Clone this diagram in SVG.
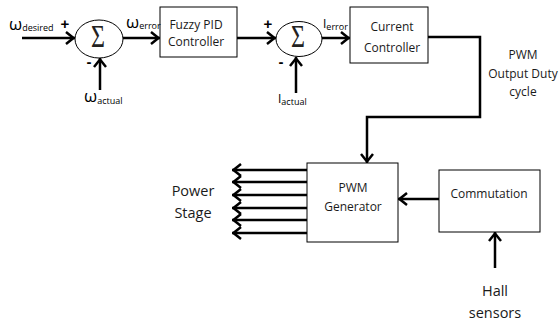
<svg xmlns="http://www.w3.org/2000/svg" width="560" height="324" viewBox="0 0 560 324">
<defs>
<style>
.box{fill:#fff;stroke:#000;stroke-width:1}
.sum{fill:#fff;stroke:#000;stroke-width:1}
.t{font-family:"Open Sans","Liberation Sans",sans-serif;font-size:12px;fill:#1a1a1a;text-anchor:middle}
.big{font-size:14.5px}
.lab{font-family:"Open Sans","Liberation Sans",sans-serif;fill:#000}
.sig{font-family:"Liberation Sans",sans-serif;font-size:15px;fill:#000;font-weight:bold;text-anchor:middle}
.w{stroke:#000;stroke-width:2.5;fill:none}
.sigma{font-family:"Liberation Serif","DejaVu Serif",serif;font-size:24px;fill:#222;text-anchor:middle}
</style>
<marker id="a" viewBox="-10 -7 12 14" markerWidth="12" markerHeight="14" markerUnits="userSpaceOnUse" refX="1.5" refY="0" orient="auto">
<path d="M-7.5,-6 L0,0 L-7.5,6" fill="none" stroke="#000" stroke-width="2.5"/>
</marker>
</defs>
<rect width="560" height="324" fill="#fff"/>

<g id="connectors">
<path class="w" d="M22,38 H75" marker-end="url(#a)"/>
<path class="w" d="M100,90 V58" marker-end="url(#a)"/>
<path class="w" d="M123,38 H160" marker-end="url(#a)"/>
<path class="w" d="M237,38 H276" marker-end="url(#a)"/>
<path class="w" d="M296,93 V57" marker-end="url(#a)"/>
<path class="w" d="M322,38 H350" marker-end="url(#a)"/>
<path class="w" d="M428,37 H480 V117 H367 V163" marker-end="url(#a)"/>
<path class="w" d="M307,170 H232" marker-end="url(#a)"/>
<path class="w" d="M307,182 H232" marker-end="url(#a)"/>
<path class="w" d="M307,195 H232" marker-end="url(#a)"/>
<path class="w" d="M307,208 H232" marker-end="url(#a)"/>
<path class="w" d="M307,220 H232" marker-end="url(#a)"/>
<path class="w" d="M307,233 H232" marker-end="url(#a)"/>
<path class="w" d="M439,199 H398" marker-end="url(#a)"/>
<path class="w" d="M495,268 V232" marker-end="url(#a)"/>
</g>

<g id="sum1">
<ellipse class="sum" cx="99" cy="39" rx="24" ry="19"/>
<text class="sigma" transform="translate(98,47) scale(1,1.3)">Σ</text>
<text class="sig" x="65" y="29">+</text>
<text class="sig" x="89" y="67">-</text>
</g>

<g id="sum2">
<ellipse class="sum" cx="299" cy="39" rx="23" ry="17.5"/>
<text class="sigma" transform="translate(298,47) scale(1,1.3)">Σ</text>
<text class="sig" x="268" y="29">+</text>
<text class="sig" x="281" y="67">-</text>
</g>

<g id="fuzzy">
<rect class="box" x="160" y="7" width="77" height="50"/>
<text class="t" x="196" y="29">Fuzzy PID</text>
<text class="t" x="196" y="46">Controller</text>
</g>

<g id="current">
<rect class="box" x="350" y="7" width="78" height="56"/>
<text class="t" x="392" y="31">Current</text>
<text class="t" x="392" y="52">Controller</text>
</g>

<g id="pwmgen">
<rect class="box" x="307" y="163" width="91" height="79"/>
<text class="t" x="353" y="192">PWM</text>
<text class="t" x="353" y="211">Generator</text>
</g>

<g id="commutation">
<rect class="box" x="439" y="170" width="101" height="62"/>
<text class="t" x="489" y="198">Commutation</text>
</g>

<g id="labels">
<text class="lab" x="9" y="30"><tspan font-size="17">ω</tspan><tspan font-size="9" dy="1">desired</tspan></text>
<text class="lab" x="84" y="102"><tspan font-size="17">ω</tspan><tspan font-size="9" dy="2">actual</tspan></text>
<text class="lab" x="126" y="28"><tspan font-size="17">ω</tspan><tspan font-size="9" dy="1">error</tspan></text>
<text class="lab" x="323" y="28"><tspan font-size="12">I</tspan><tspan font-size="9" dy="2">error</tspan></text>
<text class="lab" x="278" y="103"><tspan font-size="12">I</tspan><tspan font-size="9" dy="2">actual</tspan></text>
<text class="t" x="523" y="59">PWM</text>
<text class="t" x="523" y="78">Output Duty</text>
<text class="t" x="523" y="96">cycle</text>
<text class="t big" x="193" y="196">Power</text>
<text class="t big" x="193" y="218">Stage</text>
<text class="t big" x="495" y="296">Hall</text>
<text class="t big" x="495" y="318">sensors</text>
</g>
</svg>
